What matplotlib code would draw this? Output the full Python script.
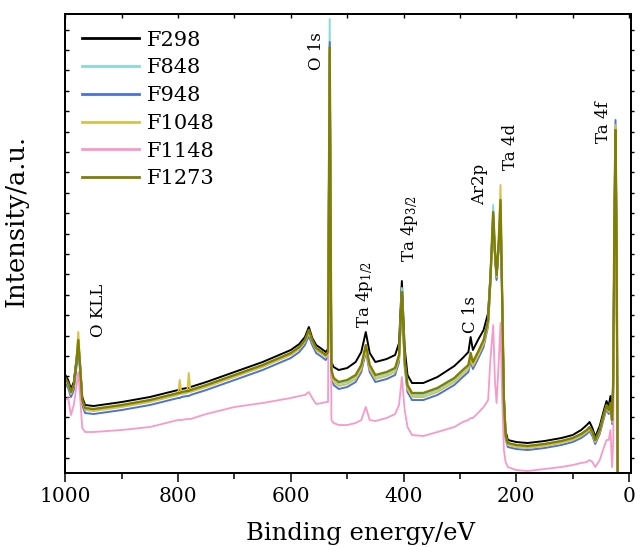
import matplotlib
matplotlib.use("Agg")
import matplotlib.pyplot as plt
from matplotlib.ticker import MultipleLocator
import matplotlib.transforms as mtransforms

plt.rcParams['font.family'] = ['DejaVu Serif']
plt.rcParams['mathtext.fontset'] = 'dejavuserif'

# Binding energy grid (eV) shared by all spectra
energy = [1000, 995, 990, 985, 980, 977, 974, 970, 965, 950, 900, 850, 800, 797, 794,
          784, 781, 778, 750, 700, 650, 600, 585, 575, 568, 562, 555, 545, 538, 534,
          531, 528, 524, 515, 500, 485, 475, 467, 460, 450, 430, 415, 408, 403, 398,
          393, 385, 365, 340, 310, 295, 285, 281, 277, 268, 258, 250, 246, 241, 238,
          235, 231, 228, 225, 222, 219, 215, 200, 180, 150, 120, 100, 85, 75, 70,
          65, 60, 52, 45, 40, 36, 33, 30, 28, 26, 24, 22, 20, 18]

f298 = [83, 78, 69, 76, 100, 116, 95, 61, 53, 52, 56, 61, 68, 68, 69,
        70, 70, 71, 76, 86, 96, 108, 114, 121, 131, 120, 113, 109, 106, 109,
        405, 96, 91, 88, 90, 96, 106, 126, 105, 96, 99, 103, 115, 177, 110,
        83, 75, 75, 81, 92, 100, 106, 121, 108, 118, 128, 145, 182, 240, 205,
        180, 215, 250, 160, 62, 27, 18, 16, 15, 17, 20, 23, 28, 33, 36,
        30, 21, 32, 47, 57, 52, 62, 42, 80, 230, 320, 200, -42, -42]

f848 = [79, 74, 65, 72, 96, 115, 91, 57, 49, 48, 52, 57, 64, 64, 65,
        66, 66, 67, 72, 82, 92, 104, 110, 117, 127, 117, 109, 105, 102, 105,
        439, 86, 78, 74, 76, 81, 91, 111, 91, 81, 84, 88, 101, 170, 96,
        71, 63, 63, 68, 78, 86, 91, 103, 94, 104, 116, 137, 180, 253, 210,
        182, 215, 252, 155, 57, 23, 15, 13, 12, 14, 17, 20, 24, 28, 31,
        26, 18, 28, 43, 52, 48, 54, 38, 75, 230, 318, 240, -42, -42]

f948 = [75, 70, 61, 68, 92, 112, 88, 53, 45, 44, 48, 53, 60, 60, 61,
        62, 62, 63, 68, 78, 88, 100, 106, 113, 122, 113, 105, 101, 98, 101,
        416, 81, 73, 69, 71, 76, 86, 106, 86, 76, 79, 83, 96, 162, 91,
        66, 58, 58, 63, 73, 81, 86, 97, 89, 99, 111, 132, 174, 245, 205,
        178, 213, 254, 152, 54, 19, 11, 9, 8, 10, 13, 16, 20, 24, 27,
        22, 14, 24, 39, 49, 44, 51, 34, 74, 240, 338, 210, -42, -42]

f1048 = [80, 73, 64, 72, 100, 126, 95, 56, 48, 47, 51, 56, 63, 78, 64,
         65, 85, 66, 71, 81, 91, 103, 109, 116, 125, 116, 108, 104, 101, 104,
         411, 84, 76, 72, 74, 79, 89, 108, 89, 79, 82, 86, 99, 163, 94,
         69, 61, 61, 66, 76, 84, 89, 100, 92, 102, 114, 134, 176, 240, 206,
         181, 222, 273, 160, 56, 21, 13, 11, 10, 12, 15, 18, 22, 26, 29,
         24, 16, 26, 41, 51, 46, 53, 36, 76, 236, 333, 205, -42, -42]

f1148 = [58, 60, 43, 53, 73, 86, 63, 30, 26, 26, 28, 31, 38, 38, 38,
         39, 39, 39, 44, 51, 55, 60, 62, 63, 66, 60, 54, 55, 56, 56,
         380, 38, 35, 33, 33, 35, 38, 51, 38, 37, 40, 44, 53, 81, 48,
         31, 23, 22, 26, 31, 36, 38, 40, 40, 45, 51, 58, 98, 133, 78,
         55, 98, 135, 58, 8, -4, -9, -12, -13, -11, -9, -7, -5, -4, -2,
         -4, -9, -2, 10, 18, 18, 28, -9, 18, 158, 228, 158, -42, -42]

f1273 = [80, 75, 66, 73, 98, 118, 93, 58, 50, 49, 53, 58, 65, 65, 66,
         67, 67, 68, 73, 83, 93, 105, 111, 118, 128, 118, 110, 106, 103, 106,
         411, 88, 80, 76, 78, 83, 93, 113, 93, 83, 86, 90, 103, 166, 98,
         73, 65, 65, 70, 80, 88, 93, 105, 96, 106, 118, 138, 178, 246, 208,
         183, 218, 258, 158, 58, 23, 15, 13, 12, 14, 17, 20, 24, 28, 31,
         26, 18, 28, 43, 53, 48, 55, 38, 78, 238, 328, 208, -42, -42]

series_names = ["F298", "F848", "F948", "F1048", "F1148", "F1273"]
series_data = [f298, f848, f948, f1048, f1148, f1273]
series_colors = ["#000000", "#86DCD8", "#4672E6", "#D8C24A", "#F79AC8", "#808000"]
series_widths = [1.4, 1.4, 1.4, 1.4, 1.3, 1.7]

# Peak assignments: (label, energy in eV, height of label base in axes fraction)
peak_labels = ["O KLL", "O 1s", r"Ta 4p$_{1/2}$", r"Ta 4p$_{3/2}$", "C 1s", "Ar2p", "Ta 4d", "Ta 4f"]
peak_energy = [942, 554, 469, 390, 282, 265, 210, 45]
label_base = [0.297, 0.878, 0.316, 0.460, 0.306, 0.584, 0.660, 0.719]

fig = plt.figure(figsize=(6.43, 5.47), dpi=100)
ax = fig.add_axes([0.1016, 0.1347, 0.8802, 0.8397])

for name, vals, col, lw in zip(series_names, series_data, series_colors, series_widths):
    ax.plot(energy, vals, color=col, lw=lw, label=name)

ax.set_xlim(1000, -4)
ax.set_ylim(-15.3, 444)

ax.xaxis.set_major_locator(MultipleLocator(200))
ax.xaxis.set_minor_locator(MultipleLocator(100))
ax.yaxis.set_major_locator(MultipleLocator(20.4))
ax.tick_params(axis='x', which='major', direction='out', length=6.5, width=1.1,
               labelsize=14.5, pad=3, top=False)
ax.tick_params(axis='x', which='minor', direction='out', length=4.5, width=1.1, top=False)
ax.tick_params(axis='y', which='major', direction='in', length=3, width=1.0,
               labelleft=False, right=False)

# Top and right frame ticks
axt = ax.twiny()
axt.set_xlim(ax.get_xlim())
axt.xaxis.set_major_locator(MultipleLocator(100))
axt.tick_params(axis='x', direction='in', length=3, width=1.0, labeltop=False)
axr = ax.twinx()
axr.set_ylim(ax.get_ylim())
axr.yaxis.set_major_locator(MultipleLocator(20.4))
axr.tick_params(axis='y', direction='out', length=2.5, width=1.0, labelright=False)

for a in (ax, axt, axr):
    for s in a.spines.values():
        s.set_linewidth(1.2)

ax.set_xlabel("Binding energy/eV", fontsize=17.5)
ax.xaxis.set_label_coords(0.522, -0.105)
ax.xaxis.label.set_va('top')
ax.set_ylabel("Intensity/a.u.", fontsize=18.5)
ax.yaxis.set_label_coords(-0.064, 0.55)

trans = mtransforms.blended_transform_factory(ax.transData, ax.transAxes)
for lab, e, yb in zip(peak_labels, peak_energy, label_base):
    ax.text(e, yb, lab, rotation=90, ha='center', va='bottom', fontsize=12,
            transform=trans)

leg = ax.legend(loc='upper left', bbox_to_anchor=(0.0, 1.0), frameon=False,
                fontsize=15, handlelength=2.75, handletextpad=0.35,
                labelspacing=0.42, borderaxespad=0.4)
for line in leg.get_lines():
    line.set_linewidth(2.0)

fig.savefig("out.png", dpi=100)
